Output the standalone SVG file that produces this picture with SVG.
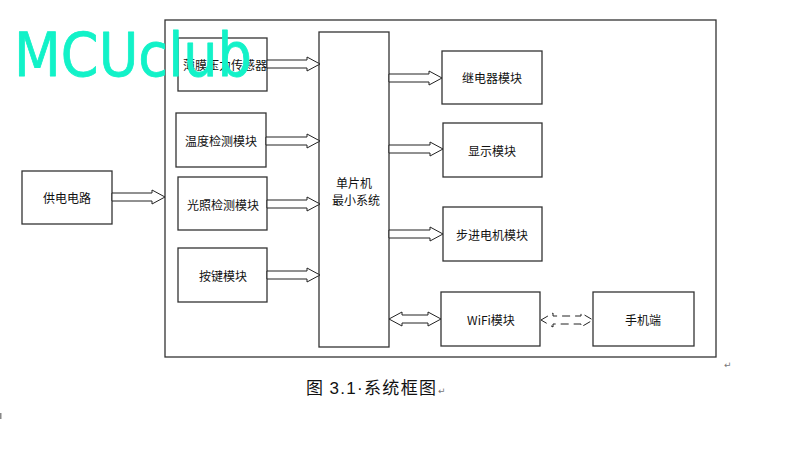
<svg xmlns="http://www.w3.org/2000/svg" width="812" height="453" viewBox="0 0 812 453">
<style>
.box{fill:#fff;stroke:#333;stroke-width:1.3}
.lbl{font-family:"Noto Sans CJK SC","Liberation Sans",sans-serif;font-size:12px;fill:#111;text-anchor:middle;dominant-baseline:central}
.arr{fill:#fff;stroke:#222;stroke-width:1}
.dash{fill:none;stroke:#222;stroke-width:1;stroke-dasharray:8,5}
.cap{font-family:"Noto Sans CJK SC","Liberation Sans",sans-serif;font-size:17px;fill:#111}
.lat{font-family:"Liberation Sans",sans-serif}
.ret{font-family:"DejaVu Sans",sans-serif;font-size:9px;fill:#777}
.wm{font-family:"Comic Sans MS","DejaVu Sans",sans-serif;font-size:60px;fill:#12F2C8;stroke:#12F2C8;stroke-width:0.8;stroke-linejoin:round}
</style>
<rect width="812" height="453" fill="#fff"/>
<g id="frame"><rect x="165" y="20" width="551" height="337" class="box"/></g>
<g id="power"><rect class="box" x="22" y="171" width="90" height="53"/><text class="lbl" x="67" y="197.5">供电电路</text></g>
<g id="pressure"><rect class="box" x="178" y="38" width="89" height="53"/><text class="lbl" x="225" y="64.5">薄膜压力传感器</text></g>
<g id="temp"><rect class="box" x="176" y="113" width="90" height="54"/><text class="lbl" x="221" y="140">温度检测模块</text></g>
<g id="light"><rect class="box" x="178" y="177" width="89" height="53"/><text class="lbl" x="223" y="204">光照检测模块</text></g>
<g id="key"><rect class="box" x="178" y="248" width="89" height="54"/><text class="lbl" x="223" y="275">按键模块</text></g>
<g id="mcu"><rect class="box" x="319" y="32" width="70" height="315"/><text class="lbl" x="354" y="182">单片机</text><text class="lbl" x="356" y="199">最小系统</text></g>
<g id="relay"><rect class="box" x="442" y="51" width="100" height="53"/><text class="lbl" x="492" y="77.5">继电器模块</text></g>
<g id="display"><rect class="box" x="443" y="123" width="99" height="54"/><text class="lbl" x="492" y="150">显示模块</text></g>
<g id="stepper"><rect class="box" x="443" y="207" width="99" height="54"/><text class="lbl" x="492" y="234">步进电机模块</text></g>
<g id="wifi"><rect class="box" x="441" y="292" width="99" height="54"/><text class="lbl" x="491" y="319">WiFi模块</text></g>
<g id="phone"><rect class="box" x="593" y="292" width="101" height="54"/><text class="lbl" x="643" y="319">手机端</text></g>
<g id="connectors">
<polygon class="arr" points="112,193 152,193 152,190 165,197 152,204 152,201 112,201"/>
<polygon class="arr" points="267,60 307,60 307,57 320,64 307,71 307,68 267,68"/>
<polygon class="arr" points="266,137 307,137 307,134 320,141 307,148 307,145 266,145"/>
<polygon class="arr" points="267,200 307,200 307,197 320,204 307,211 307,208 267,208"/>
<polygon class="arr" points="267,271 307,271 307,268 320,275 307,282 307,279 267,279"/>
<polygon class="arr" points="389,74 429,74 429,71 442,78 429,85 429,82 389,82"/>
<polygon class="arr" points="389,145 430,145 430,142 443,149 430,156 430,153 389,153"/>
<polygon class="arr" points="389,230 430,230 430,227 443,234 430,241 430,238 389,238"/>
<polygon class="arr" points="389,319 402,312 402,315 428,315 428,312 441,319 428,326 428,323 402,323 402,326"/>
<polygon class="dash" points="541,320 553,313 553,316 581,316 581,313 593,320 581,327 581,324 553,324 553,327"/>
</g>
<text class="cap" x="306" y="394" textLength="130" lengthAdjust="spacing">图 <tspan class="lat">3.1·</tspan>系统框图</text>
<text class="ret" x="438" y="394">↵</text>
<text class="ret" x="724" y="368">↵</text>
<rect x="0" y="413" width="1.5" height="6" fill="#888"/>
<text class="wm" x="14" y="76" textLength="238" lengthAdjust="spacingAndGlyphs">MCUclub</text>
</svg>
